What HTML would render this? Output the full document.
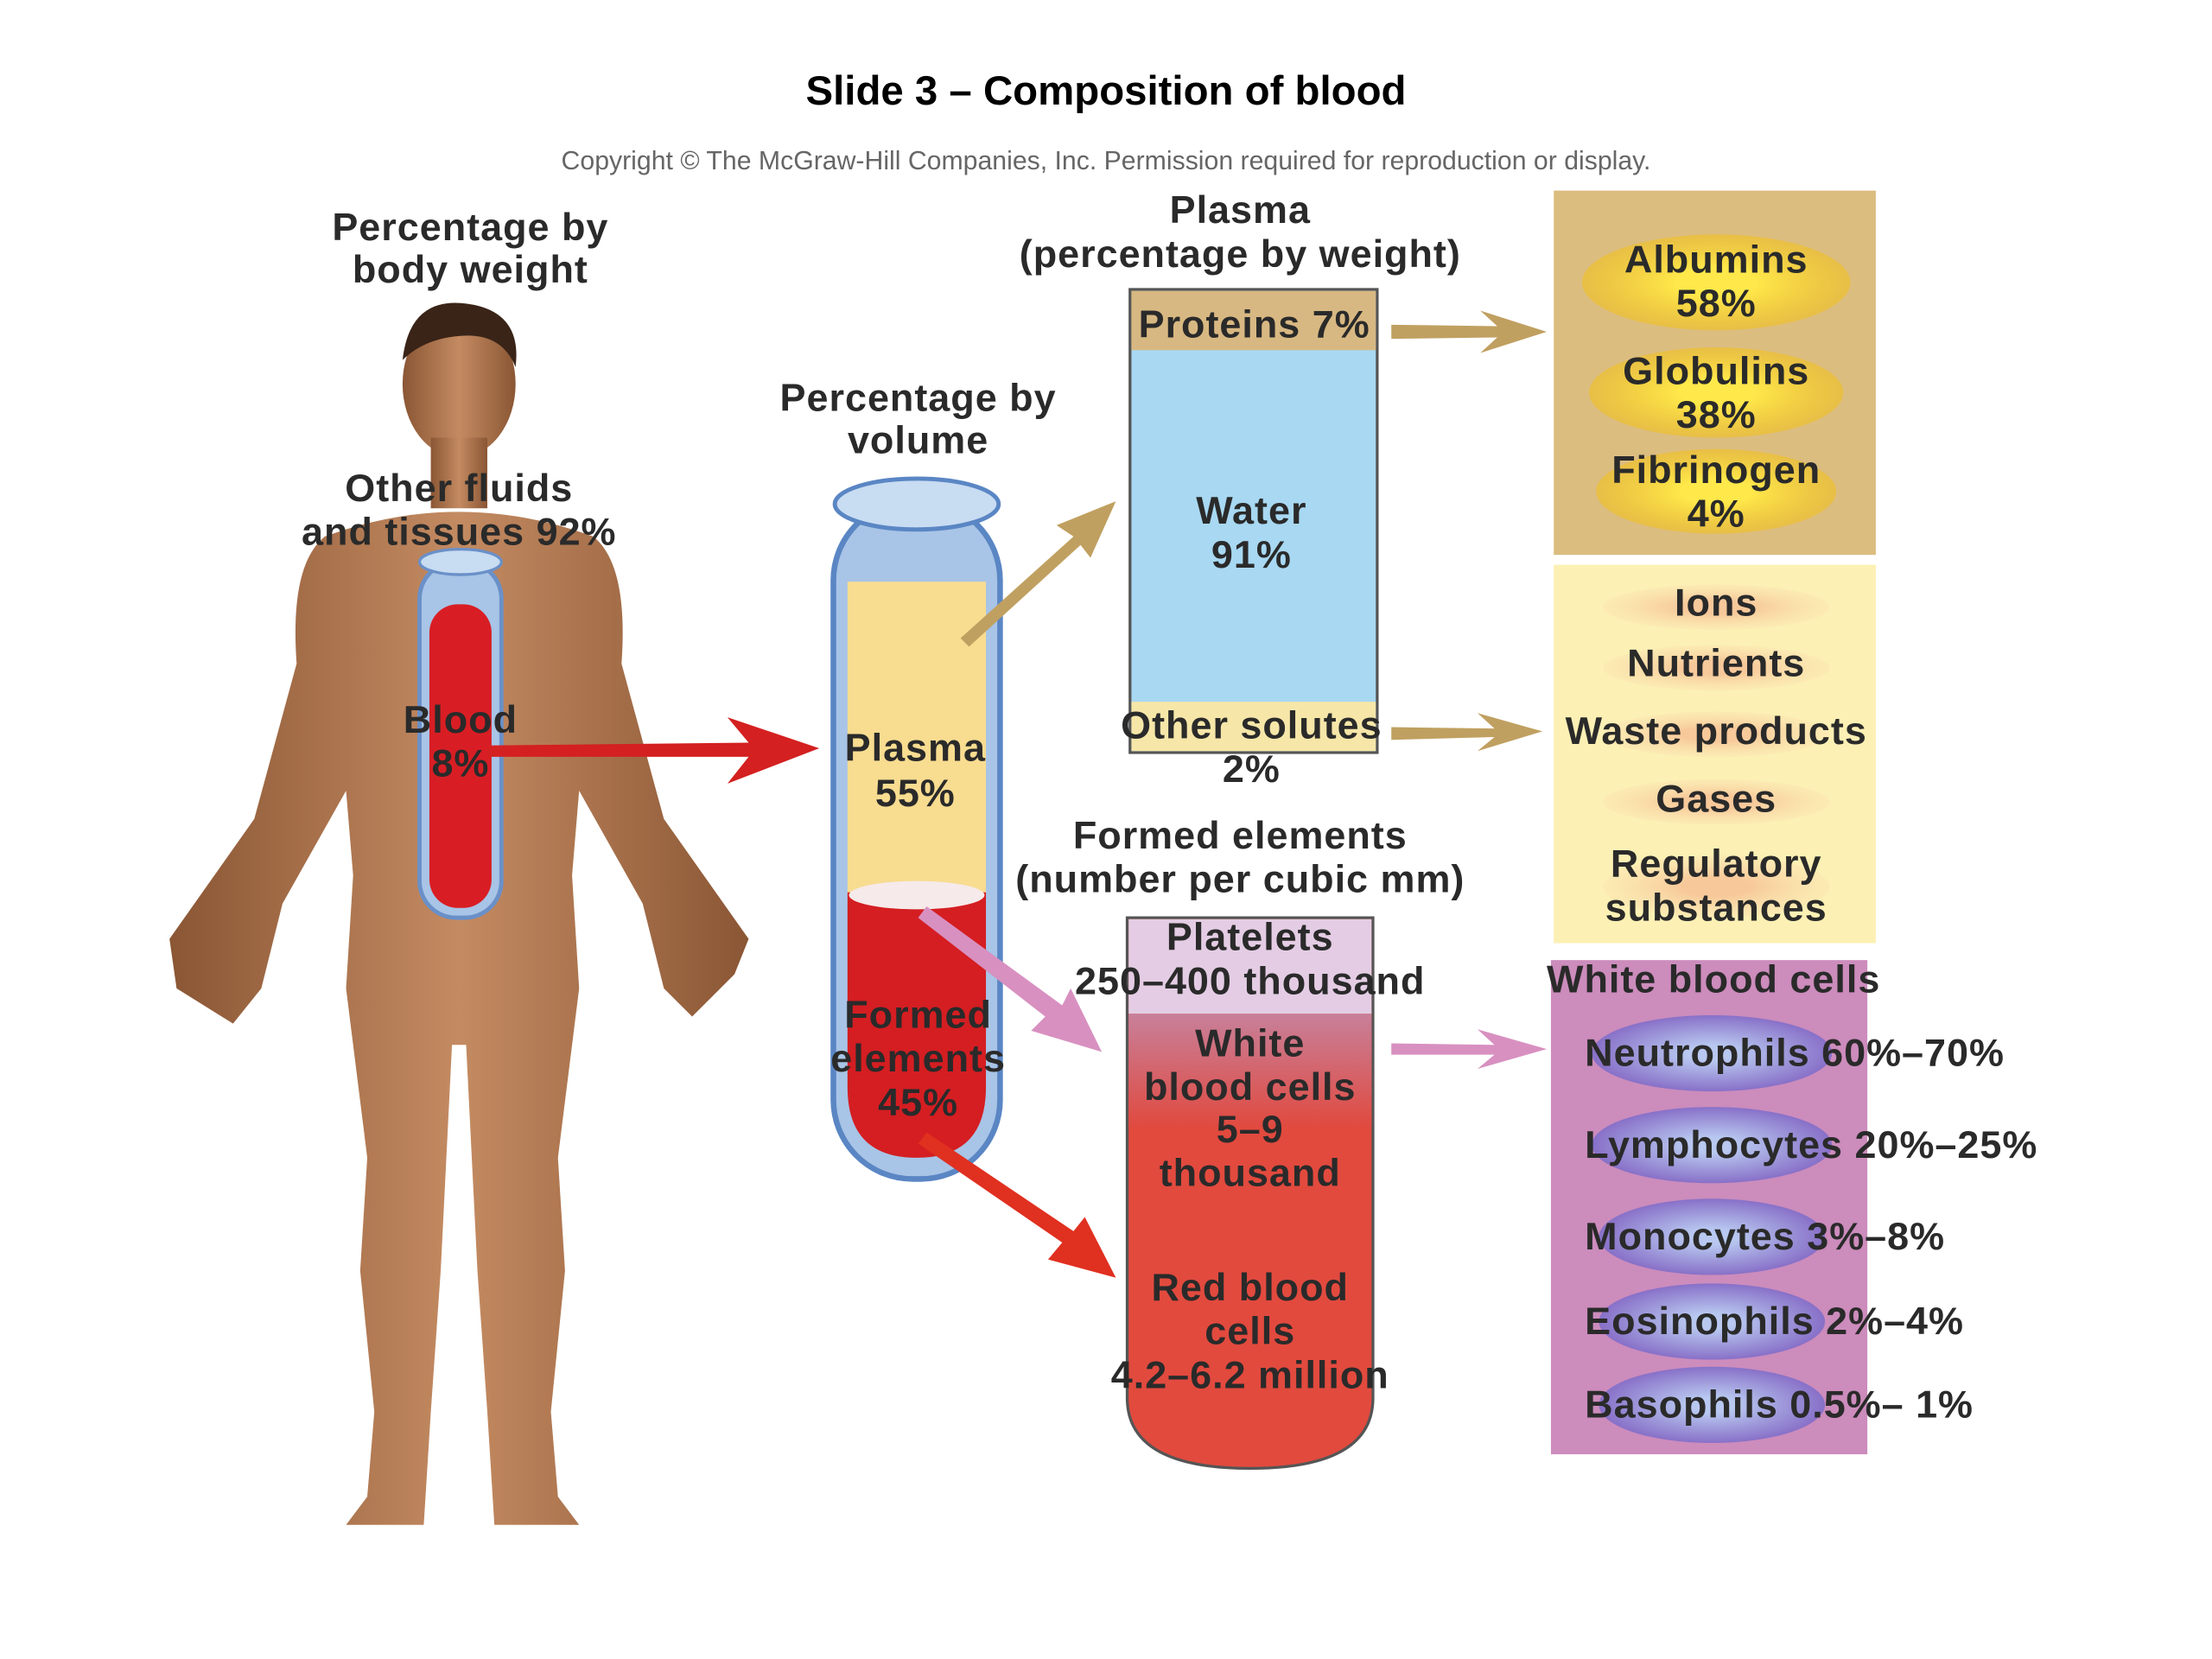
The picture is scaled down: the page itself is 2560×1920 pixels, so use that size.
<!DOCTYPE html>
<html><head><meta charset="utf-8"><style>
html,body{margin:0;padding:0;background:#fff;width:2560px;height:1920px;overflow:hidden}
svg{display:block}
text{font-family:"Liberation Sans",sans-serif;font-weight:bold;fill:#2a2a2a;text-anchor:middle;letter-spacing:0.6px}
</style></head><body>
<svg width="2560" height="1920" viewBox="0 0 1566 1175" preserveAspectRatio="none">
<defs>
<linearGradient id="skin" x1="0" x2="1"><stop offset="0" stop-color="#8a5634"/><stop offset="0.5" stop-color="#c48b62"/><stop offset="1" stop-color="#8a5634"/></linearGradient>
<radialGradient id="yel"><stop offset="0.3" stop-color="#ffe84a"/><stop offset="1" stop-color="#f0c020" stop-opacity="0.6"/></radialGradient>
<radialGradient id="org"><stop offset="0.3" stop-color="#f7c89a"/><stop offset="1" stop-color="#fbe2b0" stop-opacity="0.4"/></radialGradient>
<radialGradient id="blu"><stop offset="0.2" stop-color="#b8c8f0"/><stop offset="1" stop-color="#8870c8"/></radialGradient>
<linearGradient id="wbc" x1="0" y1="0" x2="0" y2="1"><stop offset="0" stop-color="#c8809a"/><stop offset="1" stop-color="#e04a40"/></linearGradient>
</defs>
<text x="783" y="74" font-size="29" style="fill:#000;letter-spacing:0">Slide 3 – Composition of blood</text>
<text x="783" y="120" font-size="18.5" style="font-weight:normal;fill:#666;letter-spacing:0">Copyright © The McGraw-Hill Companies, Inc. Permission required for reproduction or display.</text>
<!-- human -->
<g fill="url(#skin)">
<ellipse cx="325" cy="272" rx="40" ry="52"/>
<rect x="305" y="310" width="40" height="50"/>
<path d="M230 380 Q325 345 420 380 Q445 400 440 470 L470 580 L530 665 L520 690 L490 720 L470 700 L455 640 L410 560 L405 620 L410 700 L395 820 L400 900 L390 1000 L395 1060 L410 1080 L350 1080 L345 1000 L338 900 L330 740 L320 740 L312 900 L305 1000 L300 1080 L245 1080 L260 1060 L265 1000 L255 900 L260 820 L245 700 L250 620 L245 560 L200 640 L185 700 L165 725 L125 700 L120 665 L180 580 L210 470 Q205 400 230 380Z"/>
</g>
<path d="M285 255 Q290 210 330 215 Q370 220 365 260 Q355 235 325 238 Q300 240 285 255Z" fill="#3a2418"/>
<text x="333" y="170" font-size="27.5">Percentage by</text>
<text x="333" y="200" font-size="27.5">body weight</text>
<rect x="297" y="398" width="58" height="252" rx="26" fill="#a8c4e6" stroke="#6a90c8" stroke-width="3"/>
<ellipse cx="326" cy="398" rx="29" ry="9" fill="#c8dcf2" stroke="#6a90c8" stroke-width="2"/>
<rect x="304" y="428" width="44" height="215" rx="20" fill="#d81e24"/>
<text x="325" y="355" font-size="27.5">Other fluids</text>
<text x="325" y="386" font-size="27.5">and tissues 92%</text>
<text x="326" y="519" font-size="27.5">Blood</text>
<text x="326" y="550" font-size="27.5">8%</text>
<path d="M345 528 L530 526 L515 508 L580 530 L515 555 L530 536 L345 536Z" fill="#d42020"/>
<!-- big tube -->
<text x="650" y="291" font-size="27.5">Percentage by</text>
<text x="650" y="321" font-size="27.5">volume</text>
<rect x="590" y="355" width="118" height="480" rx="56" fill="#a8c4e6" stroke="#5a86c4" stroke-width="4"/>
<ellipse cx="649" cy="357" rx="58" ry="18" fill="#c8dcf2" stroke="#5a86c4" stroke-width="3"/>
<rect x="600" y="412" width="98" height="224" fill="#f8dc90"/>
<path d="M600 632 L698 632 L698 770 Q698 820 649 820 Q600 820 600 770Z" fill="#d41e22"/>
<ellipse cx="649" cy="634" rx="48" ry="10" fill="#f6eaea"/>
<text x="648" y="539" font-size="27.5">Plasma</text>
<text x="648" y="571" font-size="27.5">55%</text>
<text x="650" y="728" font-size="27.5">Formed</text>
<text x="650" y="759" font-size="27.5">elements</text>
<text x="650" y="790" font-size="27.5">45%</text>
<path d="M680 452 L760 380 L748 372 L790 355 L772 395 L765 386 L686 458Z" fill="#c0a060"/>
<path d="M650 650 L740 720 L730 730 L780 745 L758 700 L752 712 L656 642Z" fill="#d890c0"/>
<path d="M650 810 L752 880 L742 892 L790 905 L768 862 L760 872 L656 802Z" fill="#e03020"/>
<!-- plasma box -->
<text x="878" y="158" font-size="27.5">Plasma</text>
<text x="878" y="189" font-size="27.5">(percentage by weight)</text>
<rect x="800" y="205" width="175" height="328" fill="#a8d8f2" stroke="#555" stroke-width="2"/>
<rect x="801" y="206" width="173" height="42" fill="#d8b882"/>
<rect x="801" y="497" width="173" height="35" fill="#f6e6a8"/>
<text x="888" y="239" font-size="27.5">Proteins 7%</text>
<text x="886" y="371" font-size="27.5">Water</text>
<text x="886" y="402" font-size="27.5">91%</text>
<text x="886" y="523" font-size="27.5">Other solutes</text>
<text x="886" y="554" font-size="27.5">2%</text>
<path d="M985 230 L1060 231 L1048 220 L1095 235 L1048 250 L1060 239 L985 240Z" fill="#c0a060"/>
<path d="M985 515 L1058 516 L1046 505 L1092 518 L1046 532 L1058 522 L985 524Z" fill="#c0a060"/>
<!-- protein box -->
<rect x="1100" y="135" width="228" height="258" fill="#dcbd80"/>
<ellipse cx="1215" cy="200" rx="95" ry="34" fill="url(#yel)"/>
<ellipse cx="1215" cy="278" rx="90" ry="32" fill="url(#yel)"/>
<ellipse cx="1215" cy="348" rx="85" ry="30" fill="url(#yel)"/>
<text x="1215" y="193" font-size="27.5">Albumins</text>
<text x="1215" y="224" font-size="27.5">58%</text>
<text x="1215" y="272" font-size="27.5">Globulins</text>
<text x="1215" y="303" font-size="27.5">38%</text>
<text x="1215" y="342" font-size="27.5">Fibrinogen</text>
<text x="1215" y="373" font-size="27.5">4%</text>
<!-- solutes box -->
<rect x="1100" y="400" width="228" height="268" fill="#fcf0b4"/>
<ellipse cx="1215" cy="430" rx="80" ry="16" fill="url(#org)"/>
<ellipse cx="1215" cy="473" rx="80" ry="16" fill="url(#org)"/>
<ellipse cx="1215" cy="520" rx="80" ry="16" fill="url(#org)"/>
<ellipse cx="1215" cy="568" rx="80" ry="16" fill="url(#org)"/>
<ellipse cx="1215" cy="628" rx="80" ry="22" fill="url(#org)"/>
<text x="1215" y="436" font-size="27.5">Ions</text>
<text x="1215" y="479" font-size="27.5">Nutrients</text>
<text x="1215" y="527" font-size="27.5">Waste products</text>
<text x="1215" y="575" font-size="27.5">Gases</text>
<text x="1215" y="621" font-size="27.5">Regulatory</text>
<text x="1215" y="652" font-size="27.5">substances</text>
<!-- formed box -->
<text x="878" y="601" font-size="27.5">Formed elements</text>
<text x="878" y="632" font-size="27.5">(number per cubic mm)</text>
<path d="M798 650 L972 650 L972 990 Q972 1040 885 1040 Q798 1040 798 990Z" fill="#e24a3e" stroke="#555" stroke-width="2"/>
<rect x="799" y="651" width="172" height="67" fill="#e4cde4"/>
<rect x="799" y="718" width="172" height="80" fill="url(#wbc)"/>
<text x="885" y="673" font-size="27.5">Platelets</text>
<text x="885" y="704" font-size="27.5">250–400 thousand</text>
<text x="885" y="748" font-size="27.5">White</text>
<text x="885" y="779" font-size="27.5">blood cells</text>
<text x="885" y="809" font-size="27.5">5–9</text>
<text x="885" y="840" font-size="27.5">thousand</text>
<text x="885" y="921" font-size="27.5">Red blood</text>
<text x="885" y="952" font-size="27.5">cells</text>
<text x="885" y="983" font-size="27.5">4.2–6.2 million</text>
<path d="M985 739 L1058 740 L1046 729 L1095 743 L1046 757 L1058 747 L985 747Z" fill="#d890c0"/>
<!-- wbc box -->
<rect x="1098" y="680" width="224" height="350" fill="#cc8cbc"/>
<text x="1095" y="703" font-size="27.5" style="text-anchor:start">White blood cells</text>
<ellipse cx="1212" cy="746" rx="85" ry="27" fill="url(#blu)"/>
<ellipse cx="1212" cy="811" rx="85" ry="27" fill="url(#blu)"/>
<ellipse cx="1212" cy="876" rx="80" ry="27" fill="url(#blu)"/>
<ellipse cx="1212" cy="936" rx="80" ry="27" fill="url(#blu)"/>
<ellipse cx="1212" cy="995" rx="80" ry="27" fill="url(#blu)"/>
<text x="1122" y="755" font-size="27.5" style="text-anchor:start">Neutrophils 60%–70%</text>
<text x="1122" y="820" font-size="27.5" style="text-anchor:start">Lymphocytes 20%–25%</text>
<text x="1122" y="885" font-size="27.5" style="text-anchor:start">Monocytes 3%–8%</text>
<text x="1122" y="945" font-size="27.5" style="text-anchor:start">Eosinophils 2%–4%</text>
<text x="1122" y="1004" font-size="27.5" style="text-anchor:start">Basophils 0.5%– 1%</text>
</svg>
</body></html>
